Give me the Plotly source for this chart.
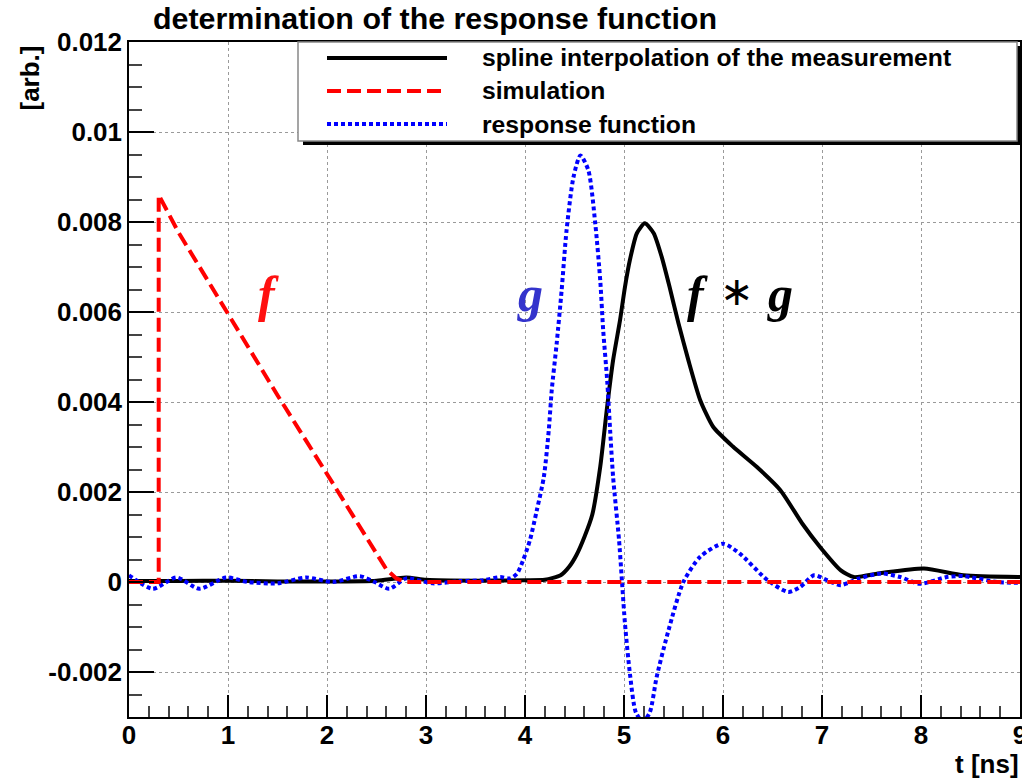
import plotly.graph_objects as go

# ---------------- data ----------------
t_meas = [0, 0.5, 1.0, 1.5, 2.0, 2.5, 2.8, 3.0, 3.5, 4.0, 4.2, 4.36, 4.45, 4.52, 4.6, 4.68,
          4.76, 4.83, 4.89, 4.96, 5.01, 5.06, 5.13, 5.21, 5.3, 5.38, 5.46, 5.55, 5.65,
          5.77, 5.9, 6.1, 6.34, 6.58, 6.8, 6.98, 7.19, 7.32, 7.6, 8.03, 8.43, 9.0]
v_meas = [0.00002, 0.00002, 0.00003, 0.00001, 0.00001, 0.00003, 0.0001, 0.00005, 0.00003,
          0.00004, 0.00005, 0.00015, 0.00035, 0.0006, 0.001, 0.0015, 0.00256, 0.0039,
          0.00493, 0.00582, 0.00656, 0.00716, 0.00775, 0.00797, 0.00775, 0.00723, 0.00656,
          0.00575, 0.00493, 0.00404, 0.00345, 0.00301, 0.00256, 0.00204, 0.0013, 0.00078,
          0.00026, 0.00011, 0.0002, 0.0003, 0.00015, 0.00011]

t_sim = [0, 0.3, 0.3, 0.5, 1.0, 1.5, 2.0, 2.3, 2.5, 2.6, 2.7, 2.8, 3.0, 9.0]
v_sim = [0, 0, 0.0086, 0.00777, 0.00596, 0.00415, 0.0024, 0.00132, 0.0006, 0.00028,
         0.00008, 0, 0, 0]

t_resp = [0, 0.24, 0.48, 0.71, 0.98, 1.2, 1.5, 1.79, 2.06, 2.33, 2.48, 2.63, 2.8, 3.07,
          3.34, 3.58, 3.75, 3.85, 3.92, 3.98, 4.05, 4.12, 4.19, 4.24, 4.27, 4.32, 4.37,
          4.42, 4.49, 4.56, 4.64, 4.71, 4.76, 4.79, 4.83, 4.86, 4.89, 4.95, 4.98, 5.01,
          5.06, 5.12, 5.19, 5.26, 5.33, 5.45, 5.6, 5.77, 6.0, 6.17, 6.45, 6.66, 6.78,
          6.92, 7.05, 7.19, 7.36, 7.6, 7.79, 7.99, 8.26, 8.43, 8.77, 9.0]
v_resp = [0.00015, -0.00015, 0.0001, -0.00015, 0.0001, 0.0, -0.00003, 0.0001, 0.0,
          0.00013, 0.0, -0.00015, 0.00008, -0.00003, 0.00002, 0.00004, 0.00011, 0.00008,
          0.00019, 0.00048, 0.00093, 0.0016, 0.00233, 0.00337, 0.00426, 0.0053, 0.00648,
          0.00782, 0.009, 0.00948, 0.00915, 0.00796, 0.0067, 0.00559, 0.00448, 0.00337,
          0.00233, 0.00093, 0.0, -0.00093, -0.00204, -0.0029, -0.0031, -0.0029, -0.00211,
          -0.00107, 0.0, 0.00056, 0.00085, 0.00063, 0.00004, -0.00022, -0.00011, 0.00015,
          0.00004, -0.00007, 0.00007, 0.00019, 0.00011, -0.00004, 0.00011, 0.00013, 0.0,
          -0.00002]

series_names = ["spline interpolation of the measurement", "simulation", "response function"]

x_tickvals = [0, 1, 2, 3, 4, 5, 6, 7, 8, 9]
x_ticktext = ["0", "1", "2", "3", "4", "5", "6", "7", "8", "9"]
y_tickvals = [-0.002, 0, 0.002, 0.004, 0.006, 0.008, 0.01, 0.012]
y_ticktext = ["-0.002", "0", "0.002", "0.004", "0.006", "0.008", "0.01", "0.012"]

# ---------------- layout geometry ----------------
W, H = 1022, 780
L, R, T, B = 129, 2, 42, 63
PW, PH = W - L - R, H - T - B


def px(xp):
    return (xp - L) / PW


def py(yp):
    return (H - B - yp) / PH


FONT = "Liberation Sans"

fig = go.Figure()
fig.add_trace(go.Scatter(x=t_meas, y=v_meas, mode="lines", name=series_names[0],
                         line=dict(color="black", width=4, shape="spline", smoothing=0.6)))
fig.add_trace(go.Scatter(x=t_resp, y=v_resp, mode="lines", name=series_names[2],
                         line=dict(color="#0000ff", width=4, dash="4px,3px",
                                   shape="spline", smoothing=0.7)))
fig.add_trace(go.Scatter(x=t_sim, y=v_sim, mode="lines", name=series_names[1],
                         line=dict(color="#ff0000", width=4, dash="14px,6px")))

axis_common = dict(
    showline=True, linecolor="black", linewidth=1.5, mirror=True,
    ticks="inside", tickcolor="black", tickwidth=1.5,
    showgrid=True, gridcolor="#9a9a9a", griddash="dot", gridwidth=1,
    zeroline=False, ticklabeloverflow="allow", automargin=False,
    tickfont=dict(family=FONT, size=26, color="black", weight="bold"),
)

fig.update_xaxes(range=[0, 9], tickmode="array", tickvals=x_tickvals, ticktext=x_ticktext,
                 ticklen=22, ticklabelstandoff=-6,
                 minor=dict(dtick=0.2, ticks="inside", ticklen=11, tickcolor="#444",
                            showgrid=False),
                 **axis_common)
fig.update_yaxes(range=[-0.003, 0.012], tickmode="array", tickvals=y_tickvals,
                 ticktext=y_ticktext, ticklen=25, ticklabelstandoff=0,
                 minor=dict(dtick=0.0005, ticks="inside", ticklen=13, tickcolor="#444",
                            showgrid=False),
                 **axis_common)

# legend box (manual, ROOT style with shadow)
shapes = [
    dict(type="rect", xref="paper", yref="paper", x0=px(303), x1=px(1021),
         y0=py(145), y1=py(46), fillcolor="black", line=dict(width=0), layer="above"),
    dict(type="rect", xref="paper", yref="paper", x0=px(298), x1=px(1017),
         y0=py(141), y1=py(42), fillcolor="white", line=dict(color="#888", width=1.5),
         layer="above"),
    dict(type="line", xref="paper", yref="paper", x0=px(327), x1=px(447), y0=py(58),
         y1=py(58), line=dict(color="black", width=4), layer="above"),
    dict(type="line", xref="paper", yref="paper", x0=px(327), x1=px(447), y0=py(91),
         y1=py(91), line=dict(color="#ff0000", width=4, dash="14px,6px"), layer="above"),
    dict(type="line", xref="paper", yref="paper", x0=px(327), x1=px(447), y0=py(124),
         y1=py(124), line=dict(color="#0000ff", width=4, dash="4px,3px"), layer="above"),
]

annotations = []
for name, yy in zip(series_names, [58, 91, 124]):
    annotations.append(dict(xref="paper", yref="paper", x=px(480), y=py(yy), text=name,
                            showarrow=False, xanchor="left", yanchor="middle",
                            font=dict(family=FONT, size=24.7, color="black", weight="bold")))

# title
annotations.append(dict(xref="paper", yref="paper", x=px(151), y=py(18),
                        text="determination of the response function", showarrow=False,
                        xanchor="left", yanchor="middle",
                        font=dict(family=FONT, size=30.4, color="black", weight="bold")))
# axis titles
annotations.append(dict(xref="paper", yref="paper", x=px(1021), y=py(764), text="t [ns]",
                        showarrow=False, xanchor="right", yanchor="middle",
                        font=dict(family=FONT, size=26, color="black", weight="bold")))
annotations.append(dict(xref="paper", yref="paper", x=px(30), y=py(44), text="[arb.]",
                        textangle=-90, showarrow=False, xanchor="center", yanchor="top",
                        font=dict(family=FONT, size=26, color="black", weight="bold")))

# curve labels
SERIF = "Liberation Serif"
label_font = dict(family=SERIF, size=50)
annotations.append(dict(x=1.41, y=0.0064, text="<b><i>f</i></b>", showarrow=False,
                        font=dict(color="#ff1010", **label_font)))
annotations.append(dict(x=4.05, y=0.0064, text="<b><i>g</i></b>", showarrow=False,
                        font=dict(color="#3333cc", **label_font)))
annotations.append(dict(x=5.74, y=0.0064, text="<b><i>f</i></b>", showarrow=False,
                        font=dict(color="black", **label_font)))
annotations.append(dict(x=6.14, y=0.00645, text="∗", showarrow=False,
                        font=dict(family=SERIF, size=40, color="black")))
annotations.append(dict(x=6.58, y=0.0064, text="<b><i>g</i></b>", showarrow=False,
                        font=dict(color="black", **label_font)))

fig.update_layout(
    width=W, height=H, margin=dict(l=L, r=R, t=T, b=B),
    paper_bgcolor="white", plot_bgcolor="white",
    showlegend=False, shapes=shapes, annotations=annotations,
)

fig.write_html("out.html")
